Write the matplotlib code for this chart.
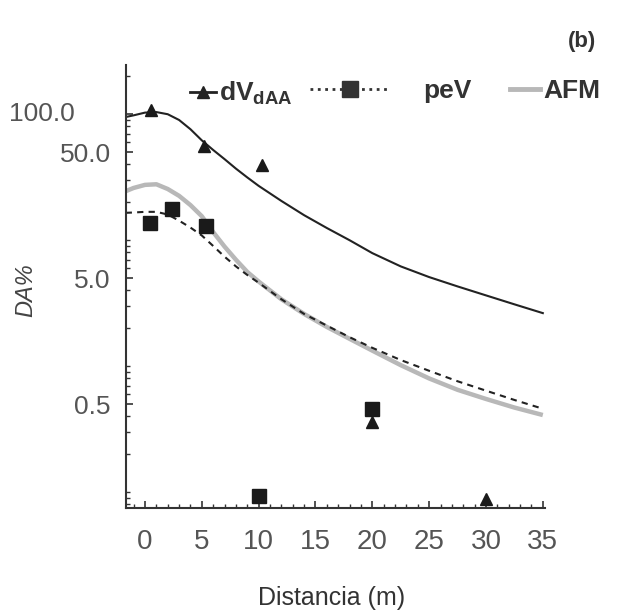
import matplotlib
matplotlib.use('Agg')
import matplotlib.pyplot as plt
import matplotlib.transforms as mtransforms
from matplotlib.lines import Line2D
from matplotlib.ticker import FixedLocator, LogLocator, MultipleLocator, NullFormatter

plt.rcParams['font.family'] = ['Liberation Sans', 'DejaVu Sans']
plt.rcParams['mathtext.fontset'] = 'custom'
plt.rcParams['mathtext.rm'] = 'Liberation Sans'
plt.rcParams['mathtext.bf'] = 'Liberation Sans:bold'
plt.rcParams['mathtext.it'] = 'Liberation Sans:italic'

# --- curves ---
x_curve = [-1.7, -1, 0, 1, 2, 3, 4, 5, 6, 7, 8, 9, 10, 12, 14, 16, 18, 20, 22.5, 25, 27.5, 30, 32.5, 35]
dv_curve = [95, 98, 103, 104, 100, 90, 76, 62, 52, 44, 37, 31.5, 27, 20.5, 15.8, 12.5, 10, 7.9, 6.2, 5.1, 4.3, 3.65, 3.1, 2.64]
pev_curve = [16.5, 16.6, 16.8, 16.8, 16.0, 14.3, 12.6, 10.9, 9.0, 7.4, 6.2, 5.3, 4.6, 3.4, 2.6, 2.1, 1.7, 1.4, 1.12, 0.92, 0.76, 0.64, 0.54, 0.46]
afm_curve = [24.5, 26, 27.5, 27.8, 25.5, 22.5, 19.0, 15.5, 11.6, 8.9, 7.0, 5.6, 4.7, 3.4, 2.6, 2.05, 1.65, 1.33, 1.02, 0.80, 0.65, 0.55, 0.47, 0.41]

# --- measured points ---
dv_x = [0.5, 5.2, 10.3, 20, 30]
dv_y = [108, 56, 39.4, 0.36, 0.089]
pev_x = [0.45, 2.4, 5.4, 10, 20]
pev_y = [13.7, 17.7, 12.9, 0.093, 0.46]

ytick_vals = [0.5, 5, 50, 100]
ytick_text = ['0.5', '5.0', '50.0', '']

fig = plt.figure(figsize=(6.19, 6.15), dpi=100)
ax = fig.add_axes([0.2036, 0.174, 0.677, 0.72])

ax.plot(x_curve, afm_curve, color='#b8b8b8', lw=3.2, solid_capstyle='butt')
ax.plot(x_curve, dv_curve, color='#222222', lw=1.5)
ax.plot(x_curve, pev_curve, color='#222222', lw=1.5, ls=(0, (3, 2.5)))
ax.plot(dv_x, dv_y, '^', color='#1a1a1a', ms=8, ls='none')
ax.plot(pev_x, pev_y, 's', color='#1a1a1a', ms=9.5, ls='none')

ax.set_yscale('log')
ax.set_ylim(0.075, 245)
ax.set_xlim(-1.67, 35.2)

ax.yaxis.set_major_locator(FixedLocator(ytick_vals))
ax.set_yticklabels(ytick_text)
ax.yaxis.set_minor_locator(LogLocator(base=10, subs=range(1, 10), numticks=50))
ax.yaxis.set_minor_formatter(NullFormatter())
ax.xaxis.set_major_locator(MultipleLocator(5))
ax.xaxis.set_minor_locator(MultipleLocator(1))

for s in ['top', 'right']:
    ax.spines[s].set_visible(False)
for s in ['left', 'bottom']:
    ax.spines[s].set_linewidth(1.5)
    ax.spines[s].set_color('#333333')

ax.tick_params(which='both', direction='in', color='#333333')
ax.tick_params(which='major', length=5, width=1.2)
ax.tick_params(which='minor', length=3, width=1.0)
ax.tick_params(axis='x', labelsize=20, pad=15, labelcolor='#555555')
ax.tick_params(axis='y', labelsize=19, pad=11, labelcolor='#555555')

# the 100.0 label sits further left in the original
trans = mtransforms.blended_transform_factory(ax.transAxes, ax.transData)
ax.text(-0.122, 100, '100.0', transform=trans, ha='right', va='center',
        fontsize=19, color='#555555')

ax.set_xlabel('Distancia (m)', fontsize=18, color='#333333')
ax.xaxis.set_label_coords(0.49, -0.177)
ax.set_ylabel('DA%', fontsize=17, style='italic', color='#444444')
ax.yaxis.set_label_coords(-0.212, 0.492)

# legend, three pieces with different handle sizes
lprop = dict(weight='bold', size=19)
h1 = Line2D([], [], color='#222222', lw=2, marker='^', ms=9)
h2 = Line2D([], [], color='#333333', lw=2, ls=':', marker='s', ms=11)
h3 = Line2D([], [], color='#b8b8b8', lw=3.5)
fig.legend([h1], [r'dV$_{\mathbf{dAA}}$'], loc='center left', bbox_to_anchor=(0.307, 0.848),
           frameon=False, borderpad=0, borderaxespad=0, handlelength=1.0, handletextpad=0.1,
           prop=lprop, labelcolor='#333333')
fig.legend([h2], ['peV'], loc='center left', bbox_to_anchor=(0.501, 0.852),
           frameon=False, borderpad=0, borderaxespad=0, handlelength=3.0, handletextpad=1.3,
           prop=lprop, labelcolor='#333333')
fig.legend([h3], ['AFM'], loc='center left', bbox_to_anchor=(0.824, 0.852),
           frameon=False, borderpad=0, borderaxespad=0, handlelength=1.15, handletextpad=0.1,
           prop=lprop, labelcolor='#333333')

fig.text(582 / 619, 1 - 42 / 615, '(b)', fontsize=16, weight='bold', color='#333333',
         ha='center', va='center')

fig.savefig('out.png', dpi=100)
